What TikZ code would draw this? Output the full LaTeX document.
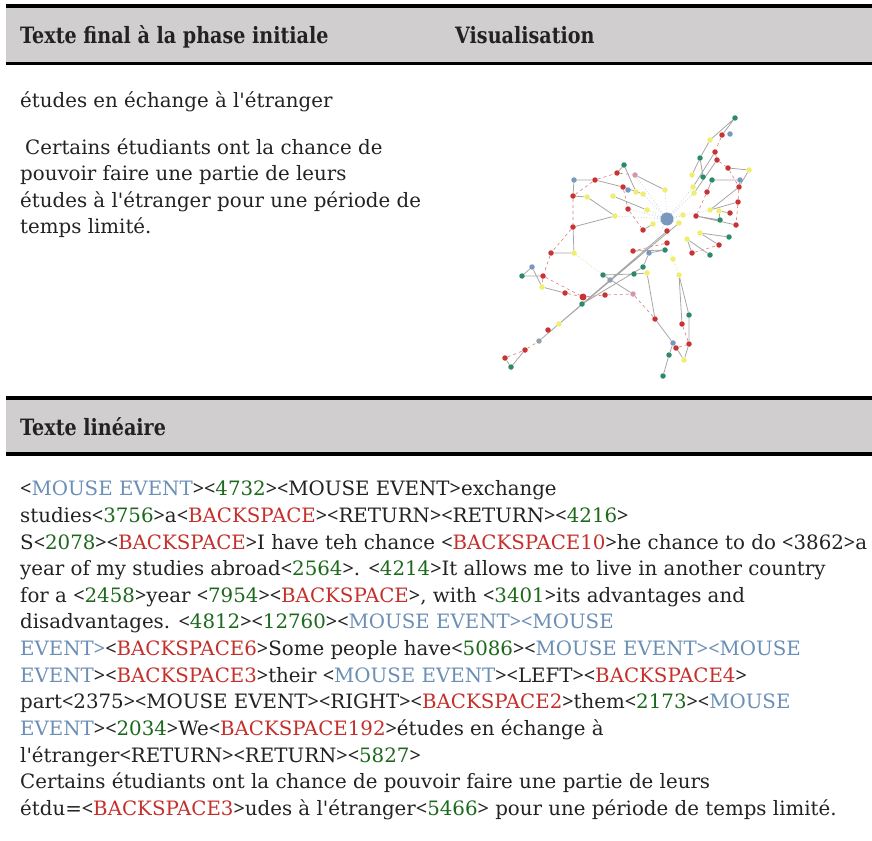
\documentclass[tikz,border=0pt]{standalone}
\usepackage{fontspec}
\usepackage{xcolor}
\usetikzlibrary{backgrounds}
\newfontfamily\bodyfont{DejaVu Serif}
\newfontfamily\brfont{Noto Sans}
\newfontfamily\headfont[FakeStretch=0.85]{DejaVu Serif}
\definecolor{headgray}{RGB}{208,206,206}
\definecolor{inkblack}{RGB}{34,34,34}
\definecolor{mouseblue}{RGB}{107,143,181}
\definecolor{pausegreen}{RGB}{28,104,28}
\definecolor{bksred}{RGB}{196,48,44}
\definecolor{gteal}{RGB}{42,138,106}
\definecolor{gred}{RGB}{200,52,52}
\definecolor{gyellow}{RGB}{240,238,110}
\definecolor{gblue}{RGB}{122,152,190}
\definecolor{gpink}{RGB}{212,150,170}
\definecolor{ggray}{RGB}{150,160,170}
\newcommand{\Lb}{{\brfont<}}
\newcommand{\Rb}{{\brfont>}}
\newcommand{\Mev}[1]{\textcolor{mouseblue}{#1}}
\newcommand{\Pse}[1]{\Lb\textcolor{pausegreen}{#1}\Rb}
\newcommand{\Bks}[1]{\Lb\textcolor{bksred}{#1}\Rb}

\begin{document}
\begin{tikzpicture}[x=1pt, y=-1pt,
    head/.style = {anchor=base west, inner sep=0, text=inkblack, font=\headfont\bfseries\fontsize{22.5}{26}\selectfont},
    line/.style = {anchor=base west, inner sep=0, text=inkblack, font=\bodyfont\fontsize{19.8}{26}\selectfont},
    gn/.style = {circle, inner sep=0, minimum size=5.5},
    tl/.style = {gn, fill=gteal}, rd/.style = {gn, fill=gred},
    yl/.style = {gn, fill=gyellow}, bl/.style = {gn, fill=gblue},
    pk/.style = {gn, fill=gpink}, gy/.style = {gn, fill=ggray},
    link/.style = {draw=gray!70, line width=0.8},
    flow/.style = {draw=gred!65, dashed, line width=0.6},
    pull/.style = {draw=gblue!50, dotted, line width=0.7},
    faint/.style = {draw=gyellow!80!gray, dotted, line width=0.7}]

      \useasboundingbox (0,0) rectangle (872,840);

      % header bands
      \fill[headgray] (6,8) rectangle (872,62);
      \draw[line width=3.5] (6,6) -- (872,6);
      \draw[line width=3.5] (6,63.5) -- (872,63.5);
      \node[head] (hfinal) at (20,44) {Texte final à la phase initiale};
      \node[head] (hvisu) at (455,44) {Visualisation};

      \fill[headgray] (6,400) rectangle (872,452);
      \draw[line width=3.5] (6,398) -- (872,398);
      \draw[line width=3.5] (6,454) -- (872,454);
      \node[head] (hlin) at (20,435) {Texte linéaire};

      % final text
      \node[line] (f1) at (20,108) {études en échange à l'étranger};
      \node[line] (f2) at (25,154) {Certains étudiants ont la chance de};
      \node[line] (f3) at (20,180) {pouvoir faire une partie de leurs};
      \node[line] (f4) at (20,207) {études à l'étranger pour une période de};
      \node[line] (f5) at (20,233) {temps limité.};

      % linear text
      \node[line] (l1) at (20,495) {\Lb\Mev{MOUSE EVENT}\Rb\Pse{4732}\Lb MOUSE EVENT\Rb exchange};
      \node[line] (l2) at (20,522) {studies\Pse{3756}a\Bks{BACKSPACE}\Lb RETURN\Rb\Lb RETURN\Rb\Pse{4216}};
      \node[line] (l3) at (20,549) {S\Pse{2078}\Bks{BACKSPACE}I have teh chance \Bks{BACKSPACE10}he chance to do \Lb 3862\Rb a};
      \node[line] (l4) at (20,575) {year of my studies abroad\Pse{2564}. \Pse{4214}It allows me to live in another country};
      \node[line] (l5) at (20,602) {for a \Pse{2458}year \Pse{7954}\Bks{BACKSPACE}, with \Pse{3401}its advantages and};
      \node[line] (l6) at (20,628) {disadvantages. \Pse{4812}\Pse{12760}\Lb\Mev{MOUSE EVENT\Rb\Lb MOUSE}};
      \node[line] (l7) at (20,655) {\Mev{EVENT\Rb}\Bks{BACKSPACE6}Some people have\Pse{5086}\Lb\Mev{MOUSE EVENT\Rb\Lb MOUSE}};
      \node[line] (l8) at (20,682) {\Mev{EVENT}\Rb\Bks{BACKSPACE3}their \Lb\Mev{MOUSE EVENT}\Rb\Lb LEFT\Rb\Bks{BACKSPACE4}};
      \node[line] (l9) at (20,708) {part\Lb 2375\Rb\Lb MOUSE EVENT\Rb\Lb RIGHT\Rb\Bks{BACKSPACE2}them\Pse{2173}\Lb\Mev{MOUSE}};
      \node[line] (l10) at (20,735) {\Mev{EVENT}\Rb\Pse{2034}We\Bks{BACKSPACE192}études en échange à};
      \node[line] (l11) at (20,762) {l'étranger\Lb RETURN\Rb\Lb RETURN\Rb\Pse{5827}};
      \node[line] (l12) at (20,788) {Certains étudiants ont la chance de pouvoir faire une partie de leurs};
      \node[line] (l13) at (20,815) {étdu=\Bks{BACKSPACE3}udes à l'étranger\Pse{5466} pour une période de temps limité.};

      % visualisation graph
      \node[gn, fill=gblue, minimum size=13] (C) at (667,219) {};
      \node[tl] (g1) at (735,118) {}; \node[rd] (g2) at (722,135) {}; \node[bl] (g3) at (730,134) {};
      \node[yl] (g4) at (710,140) {}; \node[rd] (g5) at (715,152) {}; \node[tl] (g6) at (700,158) {};
      \node[rd] (g7) at (717,160) {}; \node[rd] (g8) at (728,168) {}; \node[yl] (g9) at (749,170) {};
      \node[yl] (g10) at (692,175) {}; \node[tl] (g11) at (703,177) {}; \node[tl] (g12) at (712,180) {};
      \node[bl] (g13) at (740,180) {}; \node[rd] (g14) at (739,187) {}; \node[yl] (g15) at (693,187) {};
      \node[yl] (g16) at (694,193) {}; \node[rd] (g17) at (707,192) {}; \node[yl] (g18) at (665,190) {};
      \node[tl] (g19) at (624,165) {}; \node[rd] (g20) at (617,173) {}; \node[pk] (g21) at (635,175) {};
      \node[bl] (g22) at (574,180) {}; \node[rd] (g23) at (595,180) {}; \node[rd] (g24) at (623,187) {};
      \node[bl] (g25) at (628,190) {}; \node[yl] (g26) at (636,192) {}; \node[yl] (g27) at (643,194) {};
      \node[rd] (g28) at (573,196) {}; \node[yl] (g29) at (587,197) {}; \node[yl] (g30) at (613,196) {};
      \node[rd] (g31) at (738,202) {}; \node[rd] (g32) at (628,209) {}; \node[yl] (g33) at (647,210) {};
      \node[yl] (g34) at (710,210) {}; \node[yl] (g35) at (719,211) {}; \node[rd] (g36) at (730,213) {};
      \node[rd] (g37) at (696,216) {}; \node[yl] (g38) at (683,215) {}; \node[yl] (g39) at (615,216) {};
      \node[tl] (g40) at (720,220) {}; \node[rd] (g41) at (736,225) {}; \node[yl] (g42) at (679,223) {};
      \node[rd] (g43) at (573,227) {}; \node[rd] (g44) at (643,230) {}; \node[yl] (g45) at (653,224) {};
      \node[rd] (g46) at (667,231) {}; \node[yl] (g47) at (700,233) {}; \node[tl] (g48) at (729,237) {};
      \node[yl] (g49) at (687,239) {}; \node[rd] (g50) at (719,245) {}; \node[rd] (g51) at (667,243) {};
      \node[tl] (g52) at (665,250) {}; \node[rd] (g53) at (633,251) {}; \node[rd] (g54) at (551,253) {};
      \node[yl] (g55) at (574,253) {}; \node[bl] (g56) at (649,253) {}; \node[rd] (g57) at (692,253) {};
      \node[tl] (g58) at (710,255) {}; \node[yl] (g59) at (673,259) {}; \node[tl] (g60) at (643,267) {};
      \node[bl] (g61) at (532,267) {}; \node[tl] (g62) at (522,276) {}; \node[rd] (g63) at (543,276) {};
      \node[tl] (g64) at (603,275) {}; \node[tl] (g65) at (634,274) {}; \node[yl] (g66) at (647,273) {};
      \node[gy] (g67) at (610,280) {}; \node[yl] (g68) at (679,275) {}; \node[yl] (g69) at (542,287) {};
      \node[rd] (g70) at (565,293) {}; \node[gn, fill=gred, minimum size=7] (g71) at (583,297) {};
      \node[tl] (g72) at (582,304) {}; \node[rd] (g73) at (605,295) {}; \node[pk] (g74) at (633,294) {};
      \node[tl] (g75) at (689,315) {}; \node[rd] (g76) at (655,319) {}; \node[rd] (g77) at (682,324) {};
      \node[yl] (g78) at (559,324) {}; \node[rd] (g79) at (548,330) {}; \node[gy] (g80) at (539,341) {};
      \node[bl] (g81) at (673,343) {}; \node[rd] (g82) at (689,344) {}; \node[rd] (g83) at (676,348) {};
      \node[rd] (g84) at (525,350) {}; \node[tl] (g85) at (669,355) {}; \node[rd] (g86) at (505,358) {};
      \node[yl] (g87) at (684,360) {}; \node[tl] (g88) at (511,367) {}; \node[tl] (g89) at (663,376) {};

      \begin{scope}[on background layer]
        % solid links
        \draw[link] (g1) -- (g2) (g1) -- (g4) (g4) -- (g6) (g6) -- (g10) (g6) -- (g11)
          (g5) -- (g15) (g7) -- (g16) (g12) -- (g13) (g9) -- (g14) (g13) -- (g14) (g8) -- (g9)
          (g34) -- (g14) (g34) -- (g31) (g35) -- (g36) (g35) -- (g40) (g37) -- (g41) (g37) -- (g40)
          (g47) -- (g48) (g47) -- (g50) (g49) -- (g58) (g49) -- (g57) (g17) -- (g12)
          (g22) -- (g23) (g19) -- (g20) (g19) -- (g26) (g21) -- (g18) (g22) -- (g28) (g28) -- (g29)
          (g23) -- (g24) (g24) -- (g27) (g29) -- (g39) (g39) -- (g43) (g43) -- (g55) (g54) -- (g55)
          (g61) -- (g62) (g62) -- (g63) (g69) -- (g70) (g69) -- (g61) (g64) -- (g65) (g64) -- (g74)
          (g65) -- (g66) (g86) -- (g88) (g88) -- (g84) (g80) -- (g46) (g78) -- (g42)
          (g72) -- (g60) (g60) -- (g56) (g56) -- (g52) (g66) -- (g76) (g76) -- (g81)
          (g81) -- (g87) (g81) -- (g85) (g85) -- (g89) (g68) -- (g77) (g68) -- (g75)
          (g75) -- (g82) (g82) -- (g87) (g30) -- (g33) (g53) -- (g52) (g45) -- (g44);
        % typing flow
        \draw[flow] (g2) -- (g5) (g5) -- (g7) (g7) -- (g8) (g8) -- (g14) (g14) -- (g31) (g31) -- (g41)
          (g17) -- (g37) (g23) -- (g20) (g20) -- (g21) (g28) -- (g23) (g28) -- (g43)
          (g24) -- (g32) (g32) -- (g44) (g43) -- (g54) (g54) -- (g63) (g63) -- (g69)
          (g63) -- (g71) (g70) -- (g71) (g71) -- (g73) (g73) -- (g74) (g74) -- (g76)
          (g86) -- (g84) (g84) -- (g80) (g77) -- (g82) (g83) -- (g82) (g57) -- (g50) (g51) -- (g53);
        % pulls to the centre
        \draw[pull] (C) -- (g18) (C) -- (g21) (C) -- (g27) (C) -- (g39) (C) -- (g32) (C) -- (g15)
          (C) -- (g34) (C) -- (g38) (C) -- (g42) (C) -- (g45) (C) -- (g56) (C) -- (g33) (C) -- (g16);
        \draw[faint] (g55) -- (g64) (g59) -- (g68);
      \end{scope}
    \end{tikzpicture}
\end{document}
